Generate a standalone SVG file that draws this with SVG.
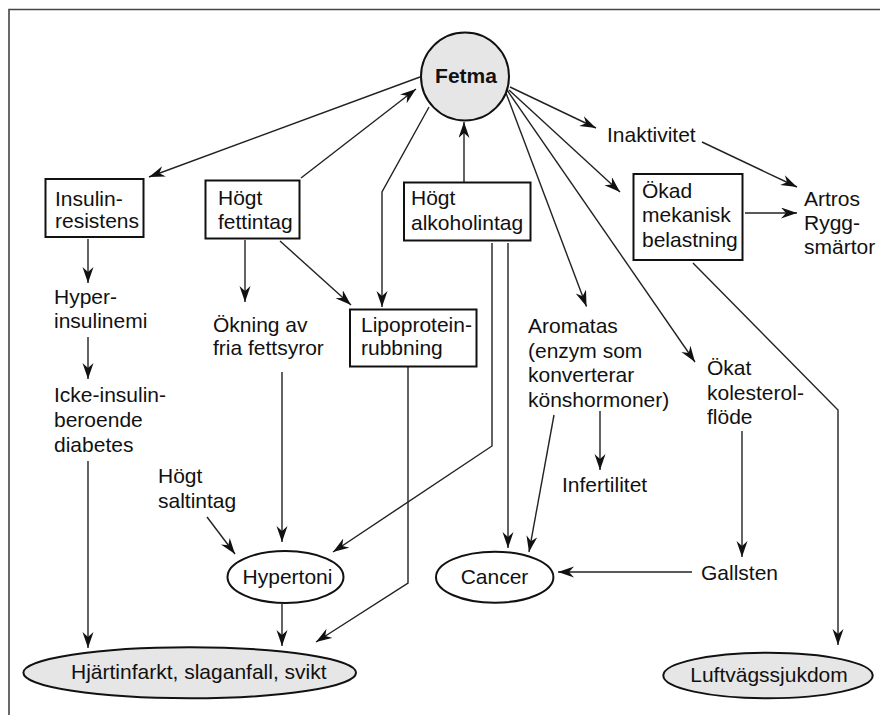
<svg xmlns="http://www.w3.org/2000/svg" width="880" height="715" viewBox="0 0 880 715">
<style>
  text { font-family: "Liberation Sans", Arial, Helvetica, sans-serif; font-size: 21px; fill: #111; }
  .bold { font-weight: bold; }
  .box { fill: #fff; stroke: #111; stroke-width: 2; }
  .ell { fill: #fff; stroke: #111; stroke-width: 2; }
  .gray { fill: #e6e6e6; stroke: #111; stroke-width: 2; }
  .c { fill: none; stroke: #222; stroke-width: 1.4; marker-end: url(#ah); }
  .n { fill: none; stroke: #222; stroke-width: 1.4; }
  .frame { fill: none; stroke: #444; stroke-width: 1.6; }
</style>
<defs>
  <marker id="ah" markerWidth="17" markerHeight="12" refX="16" refY="5.5" orient="auto" markerUnits="userSpaceOnUse">
    <path d="M0,0 L16,5.5 L0,11 L5,5.5 z" fill="#111"/>
  </marker>
</defs>
<rect width="880" height="715" fill="#fff"/>
<path class="frame" d="M9,715 L9,9.5 L880,9.5"/>

<g id="connectors">
  <path class="c" d="M420,77 L149,177"/>
  <path class="c" d="M301,178 L416,89"/>
  <path class="c" d="M429,107 L382,192 L382,307"/>
  <path class="c" d="M464,182 L464,122"/>
  <path class="c" d="M510,87 L596,128"/>
  <path class="c" d="M509,90 L620,192"/>
  <path class="c" d="M506,93 L586.5,306.5"/>
  <path class="c" d="M507,90 L695,362"/>
  <path class="c" d="M693,263 L838,410 L838,645"/>
  <path class="c" d="M745,213 L797,213"/>
  <path class="c" d="M702,142 L797,187"/>
  <path class="c" d="M554,415 L529,552"/>
  <path class="c" d="M600,411 L600,470"/>
  <path class="c" d="M492,243 L492,446 L333,552"/>
  <path class="c" d="M508,243 L508,548"/>
  <path class="c" d="M408,367 L408,583 L316,642"/>
  <path class="c" d="M280,241 L351,305"/>
  <path class="c" d="M245,240 L245,302"/>
  <path class="c" d="M282,372 L282,542"/>
  <path class="c" d="M207,517 L235,554"/>
  <path class="c" d="M282,604 L282,646"/>
  <path class="c" d="M88,239 L88,283"/>
  <path class="c" d="M88,337 L88,379"/>
  <path class="c" d="M88,461 L88,648"/>
  <path class="c" d="M692,572 L558,572"/>
  <path class="c" d="M742,431 L742,557"/>
</g>

<g id="fetma">
  <circle class="gray" cx="465" cy="76.5" r="44"/>
  <text class="bold" x="466" y="83" text-anchor="middle">Fetma</text>
</g>

<g id="insulinresistens">
  <rect class="box" x="45.5" y="179" width="98" height="58"/>
  <text x="55" y="206">Insulin-</text>
  <text x="55" y="228">resistens</text>
</g>

<g id="hogt-fettintag">
  <rect class="box" x="205.5" y="180.5" width="94" height="58"/>
  <text x="218" y="205">Högt</text>
  <text x="218" y="229">fettintag</text>
</g>

<g id="hogt-alkoholintag">
  <rect class="box" x="404" y="182.5" width="126.5" height="58"/>
  <text x="411" y="205">Högt</text>
  <text x="411" y="230">alkoholintag</text>
</g>

<g id="okad-mekanisk-belastning">
  <rect class="box" x="633.5" y="174" width="109" height="86"/>
  <text x="642" y="197.5">Ökad</text>
  <text x="642" y="222">mekanisk</text>
  <text x="642" y="246.5">belastning</text>
</g>

<g id="inaktivitet">
  <text x="607" y="142">Inaktivitet</text>
</g>

<g id="artros">
  <text x="804" y="206">Artros</text>
  <text x="804" y="230">Rygg-</text>
  <text x="804" y="254">smärtor</text>
</g>

<g id="hyperinsulinemi">
  <text x="54" y="304">Hyper-</text>
  <text x="54" y="327.5">insulinemi</text>
</g>

<g id="okning">
  <text x="213" y="331.5">Ökning av</text>
  <text x="213" y="355">fria fettsyror</text>
</g>

<g id="lipoprotein">
  <rect class="box" x="350" y="309.5" width="126.5" height="57"/>
  <text x="361" y="331.5">Lipoprotein-</text>
  <text x="361" y="355">rubbning</text>
</g>

<g id="aromatas">
  <text x="528" y="333">Aromatas</text>
  <text x="528" y="357.5">(enzym som</text>
  <text x="528" y="382">konverterar</text>
  <text x="528" y="406.5">könshormoner)</text>
</g>

<g id="okat-kolesterolflode">
  <text x="707" y="375">Ökat</text>
  <text x="707" y="400">kolesterol-</text>
  <text x="707" y="423.5">flöde</text>
</g>

<g id="icke-insulin">
  <text x="54" y="402">Icke-insulin-</text>
  <text x="54" y="427">beroende</text>
  <text x="54" y="451.5">diabetes</text>
</g>

<g id="infertilitet">
  <text x="562" y="491.5">Infertilitet</text>
</g>

<g id="hogt-saltintag">
  <text x="158" y="482.5">Högt</text>
  <text x="158" y="508">saltintag</text>
</g>

<g id="hypertoni">
  <ellipse class="ell" cx="285.5" cy="577" rx="58" ry="26"/>
  <text x="287.5" y="584" text-anchor="middle">Hypertoni</text>
</g>

<g id="cancer">
  <ellipse class="ell" cx="494.7" cy="577.2" rx="58.7" ry="25.5"/>
  <text x="494.5" y="584" text-anchor="middle">Cancer</text>
</g>

<g id="gallsten">
  <text x="701" y="580">Gallsten</text>
</g>

<g id="hjartinfarkt">
  <ellipse class="gray" cx="189.7" cy="672.8" rx="166.3" ry="25.5"/>
  <text x="71" y="679">Hjärtinfarkt, slaganfall, svikt</text>
</g>

<g id="luftvagssjukdom">
  <ellipse class="gray" cx="768" cy="675.5" rx="104.7" ry="22.8"/>
  <text x="769" y="681.5" text-anchor="middle">Luftvägssjukdom</text>
</g>
</svg>
